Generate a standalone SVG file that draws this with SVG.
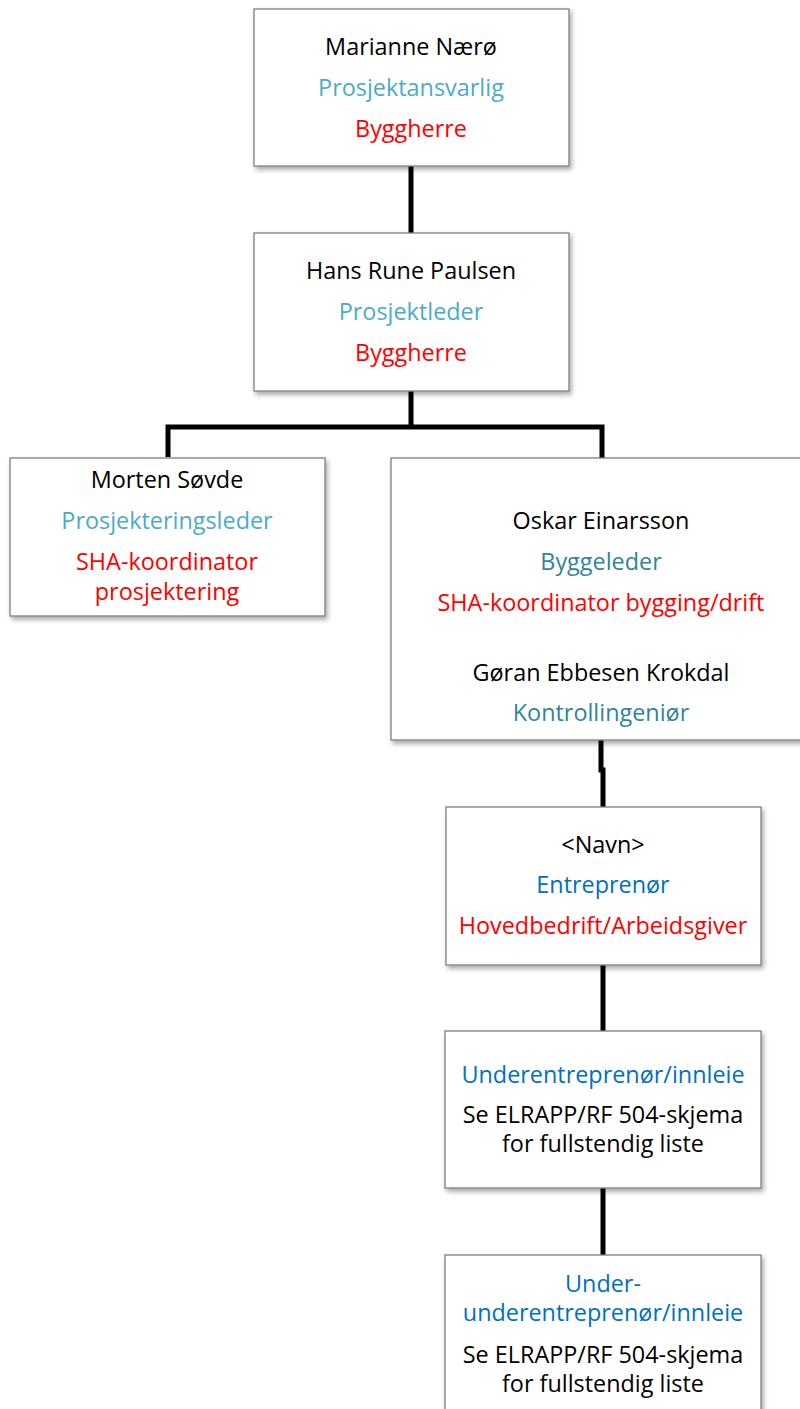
<svg xmlns="http://www.w3.org/2000/svg" width="800" height="1409" viewBox="0 0 800 1409">
<style>
text{font-family:"Open Sans","Noto Sans",sans-serif;font-size:23.4px;text-anchor:middle}
.k{fill:#000}.lb{fill:#4BACC6}.tl{fill:#31849B}.bl{fill:#0070C0}.r{fill:#FF0000}
.box{fill:#fff;stroke:#7f7f7f;stroke-width:1.3;filter:url(#sh)}
.c{stroke:#000;stroke-width:5;fill:none}
</style>
<defs>
<filter id="sh" x="-10%" y="-10%" width="125%" height="130%">
<feDropShadow dx="2" dy="3" stdDeviation="2.5" flood-color="#000" flood-opacity="0.35"/>
</filter>
</defs>
<g id="connectors">
<path class="c" d="M411 166V233"/>
<path class="c" d="M411 391V427M168 457V427H602V458"/>
<path class="c" d="M601 740V770H603V807"/>
<path class="c" d="M603 965V1031"/>
<path class="c" d="M603 1188V1255"/>
</g>
<g id="n1"><rect class="box" x="254" y="9" width="315" height="157"/>
<text x="411" y="55" class="k">Marianne Nærø</text>
<text x="411" y="96" class="lb">Prosjektansvarlig</text>
<text x="411" y="137" class="r">Byggherre</text></g>
<g id="n2"><rect class="box" x="254" y="233" width="315" height="158"/>
<text x="411" y="279" class="k">Hans Rune Paulsen</text>
<text x="411" y="320" class="lb">Prosjektleder</text>
<text x="411" y="361" class="r">Byggherre</text></g>
<g id="n3"><rect class="box" x="10" y="458" width="315" height="158"/>
<text x="167" y="488" class="k">Morten Søvde</text>
<text x="167" y="529" class="lb">Prosjekteringsleder</text>
<text x="167" y="570" class="r">SHA-koordinator</text>
<text x="167" y="600" class="r">prosjektering</text></g>
<g id="n4"><rect class="box" x="391" y="458" width="420" height="282"/>
<text x="601" y="529" class="k">Oskar Einarsson</text>
<text x="601" y="570" class="tl">Byggeleder</text>
<text x="601" y="611" class="r">SHA-koordinator bygging/drift</text>
<text x="601" y="681" class="k">Gøran Ebbesen Krokdal</text>
<text x="601" y="721" class="tl">Kontrollingeniør</text></g>
<g id="n5"><rect class="box" x="446" y="807" width="315" height="158"/>
<text x="603" y="853" class="k">&lt;Navn&gt;</text>
<text x="603" y="893" class="bl">Entreprenør</text>
<text x="603" y="934" class="r">Hovedbedrift/Arbeidsgiver</text></g>
<g id="n6"><rect class="box" x="445" y="1031" width="316" height="157"/>
<text x="603" y="1083" class="bl">Underentreprenør/innleie</text>
<text x="603" y="1123" class="k">Se ELRAPP/RF 504-skjema</text>
<text x="603" y="1152" class="k">for fullstendig liste</text></g>
<g id="n7"><rect class="box" x="445" y="1255" width="316" height="170"/>
<text x="603" y="1292" class="bl">Under-</text>
<text x="603" y="1321" class="bl">underentreprenør/innleie</text>
<text x="603" y="1363" class="k">Se ELRAPP/RF 504-skjema</text>
<text x="603" y="1392" class="k">for fullstendig liste</text></g>
</svg>
